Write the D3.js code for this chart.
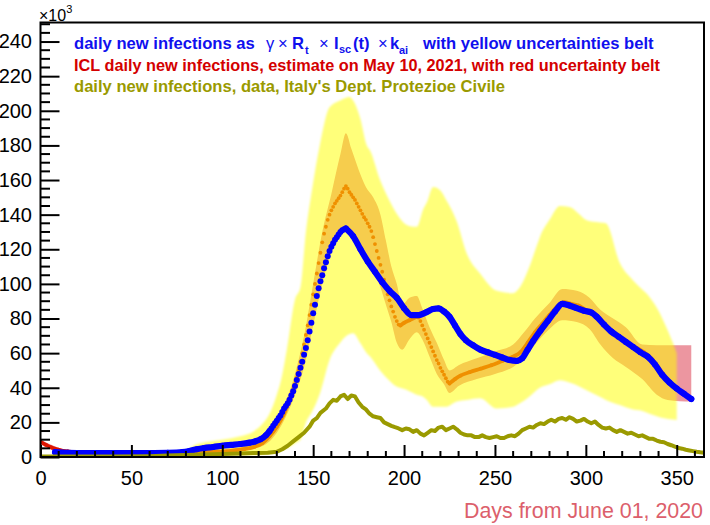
<!DOCTYPE html>
<html><head><meta charset="utf-8">
<script src="https://cdn.jsdelivr.net/npm/d3@7"></script>
<style>
body{margin:0;background:#fff}
svg{display:block}
text{font-family:"Liberation Sans",Arial,sans-serif}
</style></head>
<body>
<svg id="c" width="710" height="525"></svg>
<script>
// ---------- DATA (values in thousands) ----------
const xTicksMajor = [0,50,100,150,200,250,300,350];
const yTicksMajor = [0,20,40,60,80,100,120,140,160,180,200,220,240];

// model: gamma x Rt x Isc(t) x k_ai (blue)
const blueDays = [8,15,25,40,55,70,78,82,86,90,95,100,105,110,115,118,121,124,
 126,127,128,129,130,131,132,133,134,135,136,137,138,139,140,141,142,143,144,145,146,147,148,149,150,151,152,153,154,155,156,157,158,159,160,161,162,163,164,165,166,167,168,
 172,176,180,184,188,192,196,200,204,208,212,216,219,222,225,228,231,234,238,242,246,250,254,258,262,265,268,271,275,279,283,287,291,295,299,303,306,310,314,318,322,326,330,334,338,342,346,350,354,358];
const blueVals = [2.8,2.4,2.2,2.2,2.2,2.4,2.8,3.5,4.5,5.2,5.8,6.5,7,7.5,8.3,9,10.2,12.5,
 15,16.5,18,19.5,21,22.5,24,26,28,29.5,31,33,35.5,38,41,44.5,48,51.5,55,59,63,67.5,72.5,77.5,83,88,93,97.5,101.5,105,109,112.5,116,119,121.5,123.5,125.5,127,128.5,130,131,131.5,132,
 127.5,120,113,107,101,96,92,86,82,82,83.5,85.5,85.8,84,81,76,71,67.5,64.5,62,60.5,59,57.5,56,55.5,57,62,67,73,78.5,84,88.5,87.5,86,84.5,83.5,81,76.5,72.5,69.5,66.5,63.5,60.5,58,53.5,47.5,43,39.5,36.5,33.5];

// yellow uncertainty belt of the model
const yelDays = [80,85,100,110,117,122,126,130,132,135.5,140,143,146,149.3,153.8,159,164.8,170,172,175.8,179.5,181.3,186.8,192,194,201.5,205,207,210.5,212.5,216,220,223.4,227,229,234.4,241.8,251,260,263.7,269,273,274.7,280,285.7,291,296.7,300.4,307.7,311,318.7,326,329.7,335,340.7,342.5,348,350];
const yelLow  = [0.5,0.5,1,1,1,1.5,2,3,4,5,8,10,20,26,37,56,66,71,71.5,66,60,58,50,44,42,38.7,37,36,34.8,33,29,29,29,31,32,33,34,28,29,31,35,38.7,40,42,44.4,43,40.6,38.5,34.8,33,30,27.5,27,25,23,22.5,21.6,21.4];
const yelHigh = [3,7,10,12,14.6,19,25,36,43,62,91,98,130,154,181,202,206,208,206,196,180,177,160,148,144,134,133,133,143,147,156,154,148,141,136,117.7,106,96,94.6,98,110,122,127,137,145,144.4,140,136.8,135.5,135,112,102,98,92.5,83,79,65.6,60];

// ICL estimate of May 10, 2021 (red)
const iclDays = [0,3,6,10,15,20,30,50,70,85,95,105,112,118,122,126,130,134,138,
 140,141,142,143,144,145,146,147,148,149,150,151,152,153,154,155,156,157,158,159,160,161,162,163,164,165,166,167,168,169,170,171,172,173,174,175,176,177,178,179,180,181,182,183,184,185,186,187,188,189,190,191,192,193,194,195,196,197,
 198,200,203,207,
 208,209,210,211,212,213,214,215,216,217,218,219,220,221,222,223,224,225,
 228,231,236,242,248,254,260,264,268,272,276,280,284,288,292,296,300,304,308,312,316,320,324,328,332,336,340,344,348,352,356,358];
const iclVals = [8.8,7,5.5,4.2,3.2,2.7,2.3,2.2,2.3,2.6,3,3.6,4.5,6,8,12,17.5,25,36,
 42,46,50,55,60,65,70.5,76,82,88,94,100,106,112,118,124,129,133,137,140,142.5,144.5,146.5,148,149.5,151,153,155,156.5,155,153,151.5,150,148.5,146.5,144.5,142.5,140.5,138.5,137,135,133,130.5,127,123,119,115,111,107,102.5,98,94,90.5,87,84,81,78.5,76.5,
 76,77.5,79,81,
 80.5,78.5,76,73.5,71,68.5,66,63.5,61,58.5,56,54,51.5,49.5,47.5,45.5,43.5,42.5,
 45,47,49,51,53,55.5,58,60.5,66,72,77,82,86.5,89.5,88.5,87.5,85,83.5,79.5,75,71,67.5,65,63,60.5,57,51.5,46,41.5,38,35,33.5];

// red uncertainty belt of the ICL estimate
const redDays = [0,20,100,120,130,140,145,150,155,160,165,168,171,175,179,183,187,190,193,196,199,203,207,210,214,218,222,225,230,240,250,260,266,272,280,287,295,302,308,315,322,331,339,345,358];
const redLow  = [7.5,2.2,3,5.5,14,36,52,76,100,118,128,131,128,122,115,108,98,88,78,66,62,68,72,68,58,48,42,37,41,45,48,52,57,65,74,79,78,74,65,57,52,45,36,33,32];
const redHigh = [10,3.2,4.5,9,22,48,70,100,130,152,175,187,178,166,156,150,140,125,110,100,88,92,93,86,75,66,56,50,53,57,61,65,72,80,89,97,96,92,85,80,75,65,64.6,64.6,64.6];

// daily new infections, data (olive)
const dataDays = [0,20,40,60,70,80,90,100,110,117,125,130,133,136,139,142,145,148,150,152,154,157,159,161,163,165,167,169,171,173,175,177,179,181,183,185,187,189,191,193,195,197,199,201,203,205,207,209,211,213,215,217,219,221,223,225,227,229,231,233,235,237,239,241,243,245,247,249,251,253,255,257,259,261,263,265,267,269,271,273,275,277,279,281,283,285,287,289,291,293,295,297,299,301,303,305,307,309,311,313,315,317,319,321,323,325,327,329,331,333,335,337,339,341,343,345,347,349,351,353,355,357,359,361,363,365];
const dataVals = [0.3,0.3,0.3,0.5,0.8,1.2,1.5,1.8,2,2.3,2.5,3,4.5,6.5,9,11.5,14,17.5,21,22.5,25.5,28,31,33,32.5,35,36,33.5,35.5,35,31.5,29,27.5,25,23.5,23,22.5,20,19,18,17.2,16.5,15.5,16.5,16,14.5,15.5,13.5,12.5,14,15.5,15,17,17.5,15.5,16.5,17.5,16,14,13,12.5,12.5,11.5,11.5,12.5,11.5,11,11.5,12,11,11,12,12.5,12,13.5,15.5,16.5,17.5,17,18.5,19.5,19,20.5,21.5,20.5,22,22.5,21.5,23,22,20.5,21,22,20.5,19.5,20.5,18.5,17,16.5,17,15.5,14.5,15.5,14.5,13.5,14,13,12,12.5,11.5,10.5,10.5,9.5,8.8,8.5,7.5,6.8,6,5.2,4.8,4.2,3.8,3.4,3,2.7,2.5];

// ---------- CHART ----------
const svg = d3.select("#c");
const L=40.5, T=22.5, R=704, B=457;
const x = d3.scaleLinear().domain([0,365]).range([L,R]);
const y = d3.scaleLinear().domain([0,251]).range([B,T]);

const defs = svg.append("defs");
defs.append("clipPath").attr("id","clip")
  .append("rect").attr("x",L).attr("y",T).attr("width",R-L).attr("height",B-T);
defs.append("filter").attr("id","soft").attr("x","-5%").attr("y","-5%").attr("width","110%").attr("height","110%")
  .append("feGaussianBlur").attr("stdDeviation",1.0);

const g = svg.append("g").attr("clip-path","url(#clip)");

function area(days, lo, hi){
  return d3.area().x((d,i)=>x(days[i])).y0((d,i)=>y(lo[i])).y1((d,i)=>y(hi[i]))
    .curve(d3.curveMonotoneX)(days);
}
// draws circles at each sample and connects sparse samples with a line
function dotsLine(days, vals, color, r, w){
  const runs=[]; let cur=null;
  for(let i=1;i<days.length;i++){
    if(days[i]-days[i-1]>1.5){
      if(!cur){cur=[i-1];runs.push(cur);}
      cur.push(i);
    } else cur=null;
  }
  const ln = d3.line().x(i=>x(days[i])).y(i=>y(vals[i])).curve(d3.curveMonotoneX);
  runs.forEach(run=>g.append("path").attr("d",ln(run)).attr("fill","none")
    .attr("stroke",color).attr("stroke-width",w).attr("stroke-linecap","round").attr("stroke-linejoin","round"));
  g.append("g").selectAll("circle").data(days).join("circle")
    .attr("cx",d=>x(d)).attr("cy",(d,i)=>y(vals[i])).attr("r",r).attr("fill",color);
}

// red belt (pink), ICL red, then translucent yellow belt on top
g.append("path").attr("d",area(redDays,redLow,redHigh)).attr("fill","rgb(236,150,160)");
dotsLine(iclDays, iclVals, "rgb(222,22,0)", 1.9, 3.8);
g.append("path").attr("d",area(yelDays,yelLow,yelHigh)).attr("fill","rgb(255,255,0)").attr("fill-opacity",0.52).attr("filter","url(#soft)");
dotsLine(blueDays, blueVals, "#0000ff", 3.0, 6.2);
// data line
g.append("path").attr("d",d3.line().x((d,i)=>x(dataDays[i])).y((d,i)=>y(dataVals[i]))(dataDays))
  .attr("fill","none").attr("stroke","#9a9a00").attr("stroke-width",4).attr("stroke-linejoin","round");

// axes
const fontTick = "20px";
const xAxis = d3.axisBottom(x).tickValues(xTicksMajor).tickSizeInner(-12).tickSizeOuter(0).tickPadding(14).tickFormat(d3.format("d"));
const gx = svg.append("g").attr("transform",`translate(0,${B})`).call(xAxis);
const xMinor = d3.range(0,366,10).filter(v=>v%50!==0);
gx.selectAll(".minor").data(xMinor).join("line").attr("x1",d=>x(d)).attr("x2",d=>x(d)).attr("y1",0).attr("y2",-6).attr("stroke","#000").attr("stroke-width",2);
const yAxis = d3.axisLeft(y).tickValues(yTicksMajor).tickSizeInner(-19).tickSizeOuter(0).tickPadding(8.5).tickFormat(d3.format("d"));
const gy = svg.append("g").attr("transform",`translate(${L},0)`).call(yAxis);
const yMinor = d3.range(0,251,5).filter(v=>v%20!==0);
gy.selectAll(".minor").data(yMinor).join("line").attr("x1",0).attr("x2",9.5).attr("y1",d=>y(d)).attr("y2",d=>y(d)).attr("stroke","#000").attr("stroke-width",2);
[gx,gy].forEach(a=>{
  a.select(".domain").remove();
  a.selectAll(".tick line").attr("stroke","#000").attr("stroke-width",2);
  a.selectAll(".tick text").attr("font-size",fontTick).attr("fill","#000").attr("font-family","Liberation Sans, Arial, sans-serif");
});

// frame
svg.append("rect").attr("x",L).attr("y",T).attr("width",R-L).attr("height",B-T)
  .attr("fill","none").attr("stroke","#000").attr("stroke-width",2);

// x10^3
const e = svg.append("text").attr("x",39).attr("y",20.5).attr("font-size","16px").attr("fill","#000");
e.append("tspan").text("×10");
e.append("tspan").attr("font-size","11px").attr("dy",-8).text("3");

// axis title
svg.append("text").attr("x",703).attr("y",518).attr("text-anchor","end")
  .attr("font-size","21.4px").attr("fill","#dc5f6c").text("Days from June 01, 2020");

// legend
const l1 = svg.append("text").attr("y",49).attr("font-size","16.6px").attr("font-weight","bold").attr("fill","#1010ee");
l1.append("tspan").attr("x",74).text("daily new infections as");
l1.append("tspan").attr("x",266).attr("font-weight","normal").text("γ");
l1.append("tspan").attr("x",278).attr("font-weight","normal").text("×");
l1.append("tspan").attr("x",292).text("R");
l1.append("tspan").attr("x",305).attr("dy",5).attr("font-size","11px").text("t");
l1.append("tspan").attr("x",319).attr("dy",-5).attr("font-weight","normal").text("×");
l1.append("tspan").attr("x",334).text("I");
l1.append("tspan").attr("x",339).attr("dy",4).attr("font-size","11px").text("sc");
l1.append("tspan").attr("x",353).attr("dy",-4).text("(t)");
l1.append("tspan").attr("x",378).attr("font-weight","normal").text("×");
l1.append("tspan").attr("x",390).text("k");
l1.append("tspan").attr("x",399).attr("dy",5).attr("font-size","11px").text("ai");
l1.append("tspan").attr("x",423).attr("dy",-5).text("with yellow uncertainties belt");

svg.append("text").attr("x",74).attr("y",71).attr("font-size","16.3px").attr("font-weight","bold").attr("fill","#d40000")
  .text("ICL daily new infections, estimate on May 10, 2021, with red uncertainty belt");
svg.append("text").attr("x",74).attr("y",92).attr("font-size","16.6px").attr("font-weight","bold").attr("fill","#9a9a00")
  .text("daily new infections, data, Italy's Dept. Protezioe Civile");
</script>
</body></html>
